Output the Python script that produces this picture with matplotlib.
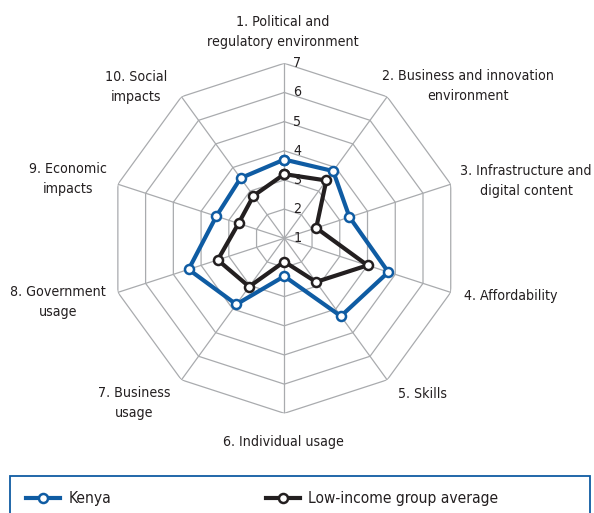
import numpy as np
import matplotlib
matplotlib.use('Agg')
import matplotlib.pyplot as plt
from matplotlib.patches import Rectangle
from matplotlib.transforms import offset_copy

plt.rcParams['font.family'] = ['DejaVu Sans']
plt.rcParams['font.stretch'] = 'condensed'

# Daten
categories = ['1. Political and\nregulatory environment',
              '2. Business and innovation\nenvironment',
              '3. Infrastructure and\ndigital content',
              '4. Affordability',
              '5. Skills',
              '6. Individual usage',
              '7. Business\nusage',
              '8. Government\nusage',
              '9. Economic\nimpacts',
              '10. Social\nimpacts']
kenya = [3.7, 3.85, 3.35, 4.75, 4.3, 2.3, 3.8, 4.45, 3.45, 3.55]
low_income = [3.2, 3.45, 2.15, 4.0, 2.85, 1.8, 3.05, 3.4, 2.65, 2.8]
ring_values = [1, 2, 3, 4, 5, 6, 7]
series_names = ['Kenya', 'Low-income group average']

blue = '#0f5ca3'
dark = '#231f20'
grid_col = '#a9abae'
fs = 10.2

W, H = 594, 513
fig = plt.figure(figsize=(W / 100, H / 100), dpi=100)
cx, cy, R = 284.3, 238.3, 175
ax = fig.add_axes([(cx - R) / W, (H - cy - R) / H, 2 * R / W, 2 * R / H],
                  projection='polar')
ax.set_theta_zero_location('N')
ax.set_theta_direction(-1)
ax.set_ylim(1, 7)
ax.grid(False)
ax.set_xticks([])
ax.set_yticks([])
ax.spines['polar'].set_visible(False)
ax.patch.set_alpha(0)

n = len(categories)
theta = np.linspace(0, 2 * np.pi, n, endpoint=False)
theta_c = np.append(theta, theta[0])

# Gitter (Zehneck)
for v in ring_values[1:]:
    ax.plot(theta_c, [v] * (n + 1), color=grid_col, lw=0.9, zorder=1)
for t in theta:
    ax.plot([t, t], [1, 7], color=grid_col, lw=0.9, zorder=1)

# Skalenbeschriftung (unter den Linien)
tick_tr = offset_copy(ax.transData, fig=fig, x=9, y=0, units='dots')
for v in ring_values:
    ax.text(0, v, str(v), transform=tick_tr, ha='left', va='center',
            fontsize=fs, color=dark, zorder=2)

# Datenreihen
for vals, col, name in [(kenya, blue, series_names[0]),
                        (low_income, dark, series_names[1])]:
    ax.plot(theta_c, vals + vals[:1], color=col, lw=3, marker='o',
            markersize=6.5, markerfacecolor='white', markeredgecolor=col,
            markeredgewidth=1.8, label=name, zorder=5)

# Achsenbeschriftungen (Pixelpositionen)
label_pos = [(283, 32), (468, 86), (526, 181), (511, 296), (423, 394),
             (283, 442), (134, 403), (58, 302), (68, 179), (136, 87)]
for lab, (px, py) in zip(categories, label_pos):
    fig.text(px / W, (H - py) / H, lab, ha='center', va='center',
             fontsize=fs, color=dark, linespacing=1.5)

# Legende
fig.patches.append(Rectangle((9.5 / W, -0.05), 580 / W, (H - 476) / H + 0.05,
                             transform=fig.transFigure, fill=False,
                             edgecolor=blue, lw=1.3))
leg = fig.legend(loc='center left', bbox_to_anchor=(26 / W, (H - 499) / H),
                 ncol=2, frameon=False, fontsize=11.2, handlelength=2.2,
                 handletextpad=0.55, columnspacing=9.9, borderpad=0,
                 borderaxespad=0)
for t in leg.get_texts():
    t.set_color(dark)

plt.savefig('out.png', dpi=100)
